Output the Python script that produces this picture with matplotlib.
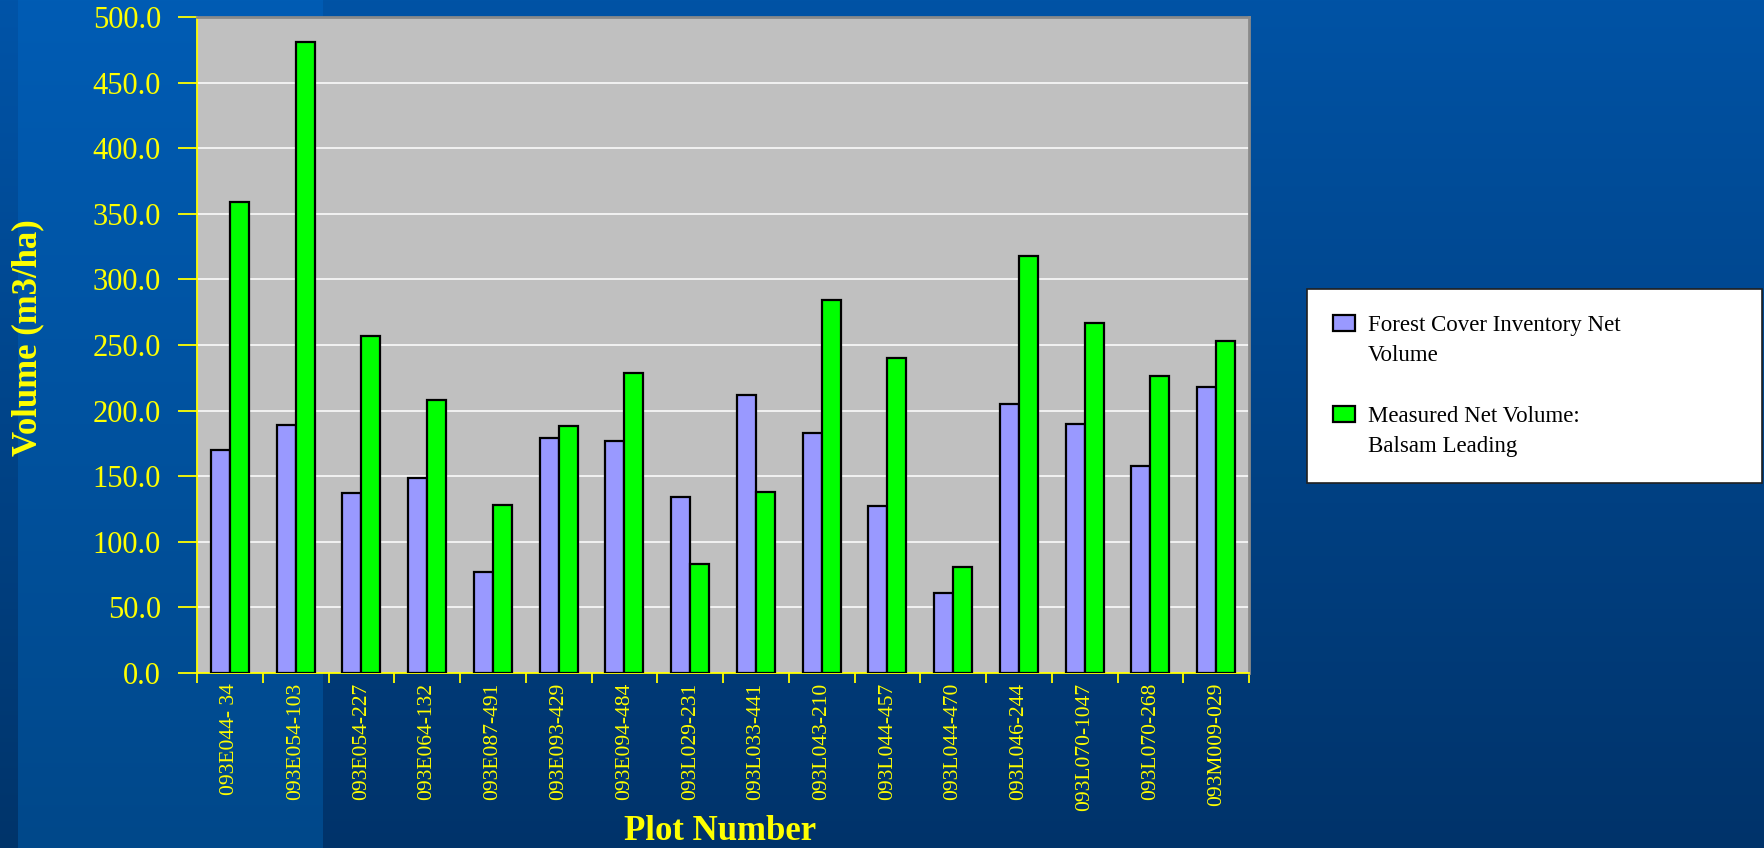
import numpy as np
import matplotlib.pyplot as plt
from matplotlib.offsetbox import HPacker
from matplotlib.colors import to_rgb

# data
plots = ["093E044- 34", "093E054-103", "093E054-227", "093E064-132", "093E087-491",
         "093E093-429", "093E094-484", "093L029-231", "093L033-441", "093L043-210",
         "093L044-457", "093L044-470", "093L046-244", "093L070-1047", "093L070-268",
         "093M009-029"]
forest_cover = [170, 189, 137, 149, 77, 179, 177, 134, 212, 183, 127, 61, 205, 190, 158, 218]
measured = [359, 481, 257, 208, 128, 188, 229, 83, 138, 284, 240, 81, 318, 267, 226, 253]
series_names = ["Forest Cover Inventory Net\nVolume", "Measured Net Volume:\nBalsam Leading"]
yticks = np.arange(0, 501, 50)

W, H = 1764, 848
serif = "Liberation Serif"
yellow = "#ffff00"

fig = plt.figure(figsize=(W / 100, H / 100), dpi=100)

# slide background: three vertical gradient zones
bg = fig.add_axes([0, 0, 1, 1], zorder=-10)
bg.set_axis_off()
zones = [(0, 18, "#0054a8", "#00346a"),
         (18, 323, "#005cb4", "#00488a"),
         (323, W, "#0053a5", "#00336a")]
img = np.zeros((H, W, 3))
t = np.linspace(0, 1, H)[:, None]
for x0, x1, top, bot in zones:
    c0, c1 = np.array(to_rgb(top)), np.array(to_rgb(bot))
    img[:, x0:x1, :] = (c0 * (1 - t) + c1 * t)[:, None, :]
bg.imshow(img, aspect="auto", extent=[0, 1, 0, 1])

ax = fig.add_axes([197 / W, 1 - 673 / H, (1249 - 197) / W, (673 - 17) / H])
ax.set_facecolor("#c0c0c0")

x = np.arange(len(plots))
w = 0.29
ax.bar(x - w / 2, forest_cover, w, color="#9999ff", edgecolor="black", linewidth=1.6,
       label=series_names[0], zorder=3)
ax.bar(x + w / 2, measured, w, color="#00ff00", edgecolor="black", linewidth=1.6,
       label=series_names[1], zorder=3)

ax.set_xlim(-0.5, len(plots) - 0.5)
ax.set_ylim(0, 500)
ax.set_yticks(yticks)
ax.set_yticklabels([f"{v:.1f}" for v in yticks], fontsize=22, family=serif, color=yellow)
ax.yaxis.grid(True, color="white", linewidth=1.1, zorder=0)
ax.set_axisbelow(True)

# ticks between categories, labels at category centres
ax.set_xticks(np.arange(-0.5, len(plots), 1.0))
ax.set_xticklabels([])
ax.set_xticks(x, minor=True)
ax.set_xticklabels(plots, minor=True, rotation=90, fontsize=15.5, family=serif,
                   color=yellow, va="top")
ax.tick_params(axis="x", which="major", length=7, width=1.3, color=yellow, direction="out")
ax.tick_params(axis="x", which="minor", length=0, pad=7)
ax.tick_params(axis="y", length=14, width=1.3, color=yellow, pad=12)

for side in ["left", "bottom"]:
    ax.spines[side].set_color(yellow)
    ax.spines[side].set_linewidth(1.3)
for side in ["top", "right"]:
    ax.spines[side].set_color("#8a8a8a")
    ax.spines[side].set_linewidth(2)

ax.set_ylabel("Volume (m3/ha)", fontsize=25, family=serif, fontweight="bold",
              color=yellow, va="center")
ax.yaxis.set_label_coords(-0.161, 0.512)
ax.set_xlabel("Plot Number", fontsize=25, family=serif, fontweight="bold", color=yellow,
              va="baseline")
ax.xaxis.set_label_coords(0.497, -0.254)

leg = fig.legend(loc="upper left",
                 bbox_to_anchor=(1307 / W, 1 - 289 / H, (1762 - 1307) / W, 0),
                 mode="expand", borderaxespad=0, fancybox=False, framealpha=1,
                 edgecolor="#202020", facecolor="white",
                 prop={"family": serif, "size": 16.5},
                 handlelength=0.95, handleheight=0.65, handletextpad=0.55,
                 labelspacing=1.75, borderpad=1.15)
leg.get_frame().set_linewidth(1.2)
for txt in leg.get_texts():
    txt.set_linespacing(1.55)
for hp in leg.findobj(HPacker):
    hp.align = "top"

fig.savefig("out.png", dpi=100)
